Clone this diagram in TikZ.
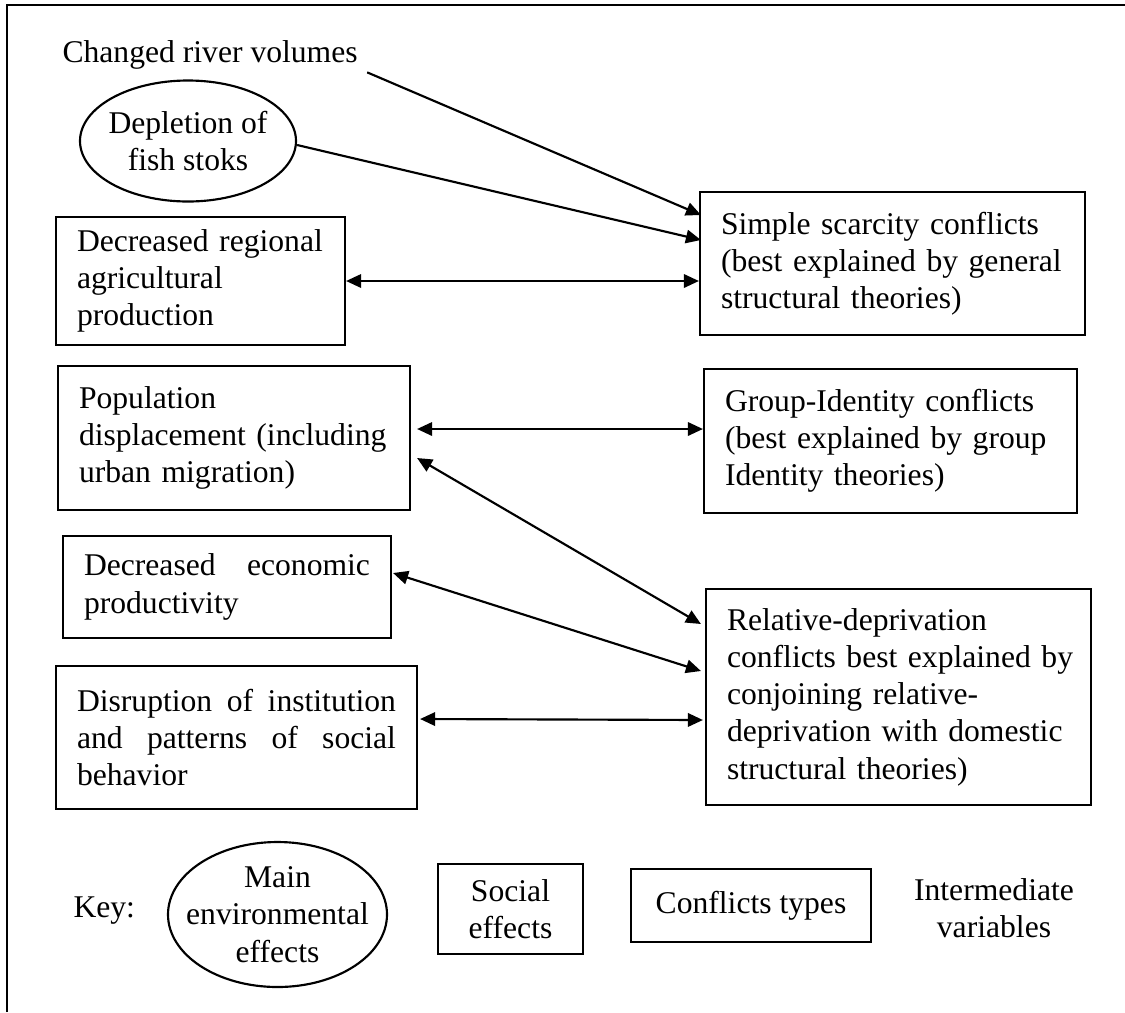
\documentclass[tikz,border=0pt]{standalone}
\usepackage{fontspec}
\setmainfont{Liberation Serif}
\usetikzlibrary{shapes.geometric, arrows.meta}
\newdimen\pxu
\pxu=0.3731pt
\newcommand\boxfont{\fontsize{11.8}{13.9}\selectfont\hyphenpenalty=10000\exhyphenpenalty=10000}
\tikzset{
  socbox/.style={draw, thick, inner xsep=21\pxu, inner ysep=0pt, align=left},
  justbox/.style={socbox, align=justify},
  envell/.style={draw, thick, ellipse, inner sep=0pt},
}
\begin{document}
\begin{tikzpicture}[x=0.3731pt, y=-0.3731pt, font=\boxfont, >={Triangle[length=5.6pt,width=5pt]}]
			\useasboundingbox (0,0) rectangle (1125,1012);
			\draw[thick] (7,1012) -- (7,5) -- (1125,5);
			% environmental effects
			\node[anchor=base west, inner sep=0pt] (river) at (62,62) {Changed river volumes};
			\node[envell, minimum width=216\pxu, minimum height=121\pxu, label={[align=center]center:Depletion of\\fish stoks}] (depl) at (188,141) {};
			% social effects
			\node[socbox, text width=247\pxu, minimum height=128\pxu] (agri) at (200.5,281) {Decreased~regional\\agricultural\\production};
			\node[socbox, text width=310\pxu, minimum height=144\pxu] (pop) at (234,438) {Population\\displacement~(including\\urban~migration)};
			\node[justbox, text width=286\pxu, minimum height=102\pxu] (econ) at (227,587) {Decreased~economic\linebreak productivity};
			\node[justbox, text width=319\pxu, minimum height=143\pxu] (disr) at (236.5,737.5) {Disruption~of~institution\linebreak and~patterns~of~social\linebreak behavior};
			% conflicts types
			\node[socbox, text width=343\pxu, minimum height=143\pxu] (simple) at (892.5,263.5) {Simple~scarcity~conflicts\\(best~explained~by~general\\structural~theories)};
			\node[socbox, text width=331\pxu, minimum height=144\pxu] (group) at (890.5,441) {\mbox{Group-Identity}~conflicts\\(best~explained~by~group\\Identity~theories)};
			\node[socbox, text width=343\pxu, minimum height=216\pxu] (rel) at (898.5,697) {Relative-deprivation\\conflicts~best~explained~by\\conjoining~relative-\\deprivation~with~domestic\\structural~theories)};
			% links
			\draw[thick, ->] ([shift={(9,3)}]river.south east) -- ([shift={(2,-48.5)}]simple.west);
			\draw[thick, ->] ([shift={(0,4)}]depl.east) -- ([shift={(2,-23.5)}]simple.west);
			\draw[thick, <->] (agri.east) -- (agri.east -| simple.west);
			\draw[thick, <->] ([shift={(6,-9)}]pop.east) -- ([shift={(0,-12)}]group.west);
			\draw[thick, <->] ([shift={(6,20)}]pop.east) -- ([shift={(-4,-73)}]rel.west);
			\draw[thick, <->] ([shift={(1,-14)}]econ.east) -- ([shift={(-4,-26)}]rel.west);
			\draw[thick, <->] ([shift={(2,-18.5)}]disr.east) -- ([shift={(-2,23)}]rel.west);
			% key
			\node[anchor=base west, inner sep=0pt] (key) at (73,917) {Key:};
			\node[envell, minimum width=219\pxu, minimum height=145\pxu, label={[align=center]center:Main\\environmental\\effects}] (keyenv) at (277.5,914.5) {};
			\node[socbox, align=center, inner xsep=0pt, minimum width=145\pxu, minimum height=90\pxu] (keysoc) at (510.5,909) {Social\\effects};
			\node[socbox, align=center, inner xsep=0pt, minimum width=240\pxu, minimum height=73\pxu] (keyconf) at (751,905.5) {Conflicts types};
			\node[align=center] (keyvar) at (994,908) {Intermediate\\variables};
\end{tikzpicture}
\end{document}
